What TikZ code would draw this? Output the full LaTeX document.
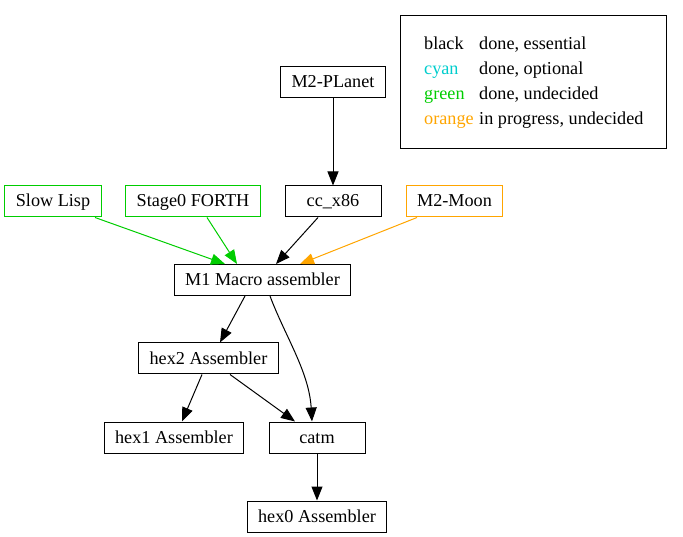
\documentclass[tikz,border=0pt]{standalone}
\usepackage{fontspec}
\setmainfont{Liberation Serif}
\usetikzlibrary{arrows.meta}
\definecolor{dgreen}{HTML}{00CD00}
\definecolor{dorange}{HTML}{FFA500}
\definecolor{dcyan}{HTML}{00CDCD}
\tikzstyle{box}=[draw, line width=1pt, minimum height=31pt, minimum width=96pt, inner xsep=11pt, text height=13.5pt, text depth=2.5pt, font=\fontsize{18.2pt}{21pt}\selectfont]
\tikzstyle{arrow}=[draw, line width=1pt, -{Triangle[length=14pt,width=11pt]}]
\tikzstyle{key}=[anchor=base west, inner sep=0pt, font=\fontsize{18.2pt}{21pt}\selectfont]

\begin{document}
\begin{tikzpicture}[x=1pt, y=-1pt]
\useasboundingbox (0,0) rectangle (683,537);

\node (planet) [box] at (333,82) {M2-PLanet};
\node (cc) [box] at (333,201.5) {cc\_x86};
\node (lisp) [box, draw=dgreen] at (53,201.5) {Slow Lisp};
\node (forth) [box, draw=dgreen] at (193,201.5) {Stage0 FORTH};
\node (moon) [box, draw=dorange] at (454.5,201.5) {M2-Moon};
\node (m1) [box] at (262.5,280) {M1 Macro assembler};
\node (hex2) [box] at (208.5,358.5) {hex2 Assembler};
\node (hex1) [box] at (174,437.5) {hex1 Assembler};
\node (catm) [box] at (317,437.5) {catm};
\node (hex0) [box] at (317,516.5) {hex0 Assembler};

% legend
\node (legend) [draw, line width=1pt, minimum width=266pt, minimum height=133pt] at (533,82.5) {};
\node (kblack) [key] at (424,50) {black};
\node (kcyan) [key, text=dcyan] at (424,75) {cyan};
\node (kgreen) [key, text=dgreen] at (424,100) {green};
\node (korange) [key, text=dorange] at (424,125) {orange};
\node (dblack) [key] at (479,50) {done, essential};
\node (dcyan) [key] at (479,75) {done, optional};
\node (dgreen) [key] at (479,100) {done, undecided};
\node (dorange) [key] at (479,125) {in progress, undecided};

\draw [arrow] (planet) -- (cc);
\draw [arrow, draw=dgreen, -{Triangle[length=14pt,width=11pt,fill=dgreen]}] ([xshift=42pt]lisp.south) -- ([xshift=-37.5pt]m1.north);
\draw [arrow, draw=dgreen, -{Triangle[length=14pt,width=11pt,fill=dgreen]}] ([xshift=14pt]forth.south) -- ([xshift=-25.5pt]m1.north);
\draw [arrow] ([xshift=-15pt]cc.south) -- ([xshift=13.5pt]m1.north);
\draw [arrow, draw=dorange, -{Triangle[length=14pt,width=11pt,fill=dorange]}] ([xshift=-37.5pt]moon.south) -- ([xshift=37.5pt]m1.north);
\draw [arrow] ([xshift=-17.5pt]m1.south) -- ([xshift=11.5pt]hex2.north);
\draw [arrow] ([xshift=7.5pt]m1.south) .. controls +(15,40) and +(-3,-50) .. ([xshift=-5pt]catm.north);
\draw [arrow] ([xshift=-6.5pt]hex2.south) -- ([xshift=8pt]hex1.north);
\draw [arrow] ([xshift=21.5pt]hex2.south) -- ([xshift=-22pt]catm.north);
\draw [arrow] (catm) -- (hex0);

\end{tikzpicture}
\end{document}
